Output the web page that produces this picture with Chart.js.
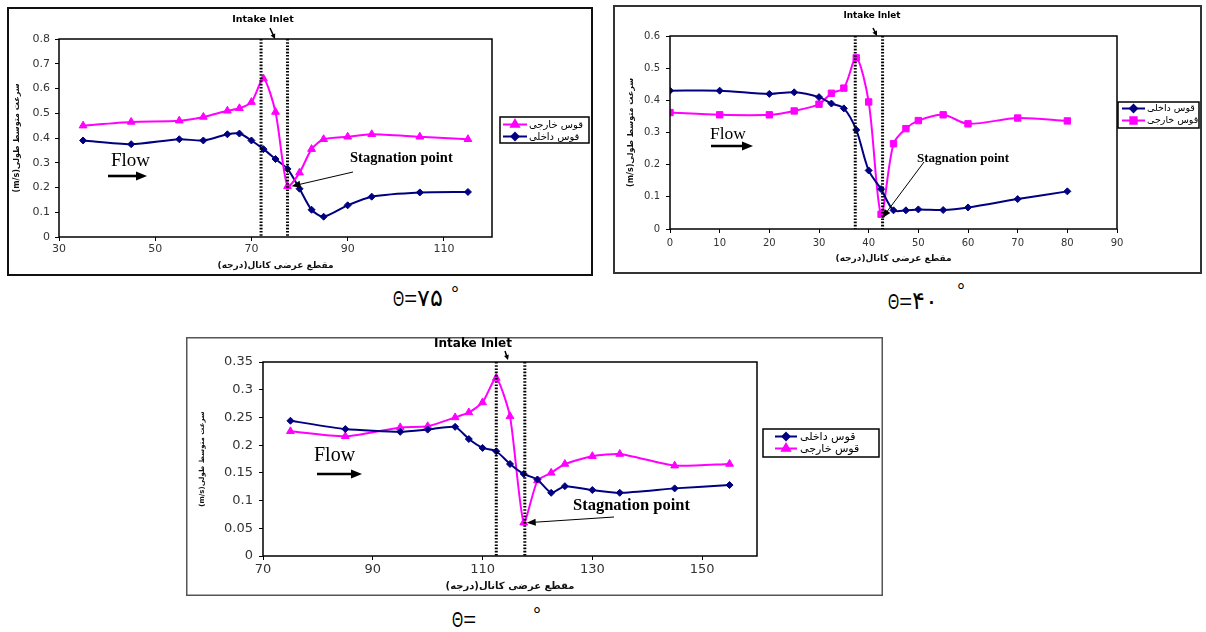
<!DOCTYPE html>
<html><head><meta charset="utf-8">
<script src="https://cdn.jsdelivr.net/npm/chart.js@4.4.1/dist/chart.umd.min.js"></script>
<style>
html,body{margin:0;padding:0;background:#fff;}
body{width:1206px;height:632px;position:relative;overflow:hidden;}
canvas{position:absolute;display:block;}
.lab{position:absolute;white-space:nowrap;font-family:"Liberation Sans","DejaVu Sans",sans-serif;font-size:22px;line-height:22px;color:#000;}
.th{display:inline-block;transform:scaleX(0.65);transform-origin:0 50%;margin-right:-6px;}
.dgt{font-family:'DejaVu Sans';font-size:24px;}
.dg{position:absolute;white-space:nowrap;font-family:"Liberation Sans",sans-serif;font-size:20px;line-height:20px;color:#000;}
</style></head><body>
<canvas id="c75" width="586" height="269" style="left:7px;top:7px"></canvas>
<canvas id="c40" width="589" height="269" style="left:613px;top:5px"></canvas>
<canvas id="cT" width="697" height="259" style="left:186px;top:337px"></canvas>
<div class="lab" style="left:393px;top:287px"><span class="th">Θ</span>=<span class="dgt">٧۵</span></div>
<div class="dg" style="left:451px;top:284px">°</div>
<div class="lab" style="left:888px;top:290px"><span class="th">Θ</span>=<span class="dgt">۴٠</span></div>
<div class="dg" style="left:957px;top:281px">°</div>
<div class="lab" style="left:452px;top:609px"><span class="th">Θ</span>=</div>
<div class="dg" style="left:533px;top:605px">°</div>
<script>
// ===== chart data =====
const innerName = 'قوس داخلی';
const outerName = 'قوس خارجی';
const yTitle = '(m/s)سرعت متوسط طولی';
const xTitle = 'مقطع عرضی کانال(درجه)\u200F';

// θ = 75°
const xTicks75 = [30, 50, 70, 90, 110];
const yTicks75 = [0, 0.1, 0.2, 0.3, 0.4, 0.5, 0.6, 0.7, 0.8];
const pos75 = [35, 45, 55, 60, 65, 67.5, 70, 72.5, 75, 77.5, 80, 82.5, 85, 90, 95, 105, 115];
const outer75 = [0.45, 0.465, 0.47, 0.485, 0.51, 0.52, 0.545, 0.64, 0.505, 0.205, 0.26, 0.355, 0.395, 0.405, 0.415, 0.405, 0.395];
const inner75 = [0.39, 0.375, 0.395, 0.39, 0.415, 0.418, 0.39, 0.355, 0.315, 0.275, 0.195, 0.11, 0.082, 0.128, 0.163, 0.18, 0.182];
const inlet75 = [72, 77.5];

// θ = 40°
const xTicks40 = [0, 10, 20, 30, 40, 50, 60, 70, 80, 90];
const yTicks40 = [0, 0.1, 0.2, 0.3, 0.4, 0.5, 0.6];
const pos40 = [0, 10, 20, 25, 30, 32.5, 35, 37.5, 40, 42.5, 45, 47.5, 50, 55, 60, 70, 80];
const inner40 = [0.43, 0.43, 0.42, 0.425, 0.41, 0.39, 0.375, 0.308, 0.182, 0.124, 0.058, 0.058, 0.061, 0.059, 0.067, 0.093, 0.117];
const outer40 = [0.362, 0.355, 0.355, 0.367, 0.388, 0.422, 0.438, 0.532, 0.395, 0.046, 0.265, 0.312, 0.337, 0.355, 0.327, 0.345, 0.336];
const inlet40 = [37.3, 42.8];

// third chart
const xTicksT = [70, 90, 110, 130, 150];
const yTicksT = [0, 0.05, 0.1, 0.15, 0.2, 0.25, 0.3, 0.35];
const posT = [75, 85, 95, 100, 105, 107.5, 110, 112.5, 115, 117.5, 120, 122.5, 125, 130, 135, 145, 155];
const innerT = [0.244, 0.229, 0.224, 0.228, 0.233, 0.211, 0.195, 0.189, 0.166, 0.148, 0.138, 0.114, 0.126, 0.119, 0.114, 0.122, 0.128];
const outerT = [0.225, 0.216, 0.232, 0.234, 0.25, 0.259, 0.277, 0.321, 0.252, 0.06, 0.136, 0.15, 0.166, 0.18, 0.184, 0.163, 0.166];
const inletT = [112.5, 117.7];

// ===== styling / layout =====
const PINK = '#FF00FF', NAVY = '#000080';
function ds(label, xs, ys, color, style, radius, tension) {
  return {label, data: xs.map((x, i) => ({x, y: ys[i]})), borderColor: color, backgroundColor: color,
    pointBackgroundColor: color, pointBorderColor: color, borderWidth: 2, pointStyle: style,
    pointRadius: radius, pointHoverRadius: radius, pointBorderWidth: 1, tension, fill: false};
}
function arrow(ctx, x1, y1, x2, y2, hl, hw, lw) {
  const a = Math.atan2(y2 - y1, x2 - x1), c = Math.cos(a), s = Math.sin(a);
  ctx.lineWidth = lw;
  ctx.beginPath(); ctx.moveTo(x1, y1); ctx.lineTo(x2 - c * hl * 0.8, y2 - s * hl * 0.8); ctx.stroke();
  ctx.beginPath(); ctx.moveTo(x2, y2);
  ctx.lineTo(x2 - hl * c + hw * s, y2 - hl * s - hw * c);
  ctx.lineTo(x2 - hl * c - hw * s, y2 - hl * s + hw * c);
  ctx.closePath(); ctx.fill();
}
function annPlugin(L) {
  return {id: 'ann', afterDraw(chart) {
    const ctx = chart.ctx, ca = chart.chartArea, xs = chart.scales.x, ys = chart.scales.y;
    ctx.save();
    ctx.setLineDash([]);
    ctx.strokeStyle = '#000'; ctx.lineWidth = 1.5;
    ctx.strokeRect(ca.left, ca.top, ca.right - ca.left, ca.bottom - ca.top);
    ctx.strokeStyle = L.frameColor; ctx.lineWidth = L.frameLW;
    ctx.strokeRect(L.frameLW / 2, L.frameLW / 2, chart.width - L.frameLW, chart.height - L.frameLW);
    // intake inlet dotted lines
    ctx.strokeStyle = '#000'; ctx.lineWidth = 3; ctx.setLineDash([1.6, 1.6]);
    L.inlet.forEach(v => {
      const px = xs.getPixelForValue(v);
      ctx.beginPath(); ctx.moveTo(px, ca.top); ctx.lineTo(px, ca.bottom); ctx.stroke();
    });
    ctx.setLineDash([]);
    ctx.fillStyle = '#000'; ctx.strokeStyle = '#000';
    // Intake Inlet label
    ctx.font = 'bold ' + L.intake.size + 'px "DejaVu Sans"';
    ctx.textAlign = 'center'; ctx.textBaseline = 'middle';
    ctx.fillText('Intake Inlet', L.intake.x, L.intake.y);
    arrow(ctx, L.intake.a[0], L.intake.a[1], L.intake.a[2], L.intake.a[3], 5, 2.5, 1.5);
    // Flow
    ctx.font = L.flow.size + 'px "Liberation Serif"';
    ctx.textAlign = 'left'; ctx.textBaseline = 'alphabetic';
    ctx.fillText('Flow', L.flow.x, L.flow.y);
    arrow(ctx, L.flow.a[0], L.flow.a[1], L.flow.a[2], L.flow.a[1], 11, 4.5, 2.6);
    // Stagnation point
    ctx.font = 'bold ' + L.stag.size + 'px "Liberation Serif"';
    ctx.textBaseline = 'middle';
    ctx.fillText('Stagnation point', L.stag.x, L.stag.y);
    const tx = xs.getPixelForValue(L.stag.px) + L.stag.off[0];
    const ty = ys.getPixelForValue(L.stag.py) + L.stag.off[1];
    arrow(ctx, L.stag.s[0], L.stag.s[1], tx, ty, 9, 3.5, 1);
    // legend
    const g = L.legend;
    ctx.lineWidth = 1.5; ctx.strokeStyle = '#000';
    ctx.strokeRect(g.x0, g.y0, g.x1 - g.x0, g.y1 - g.y0);
    ctx.font = g.size + 'px "DejaVu Sans"';
    ctx.textBaseline = 'middle'; ctx.textAlign = 'left';
    chart.data.datasets.forEach((d, i) => {
      const y = g.rows[i];
      ctx.strokeStyle = d.borderColor; ctx.fillStyle = d.borderColor; ctx.lineWidth = 2;
      ctx.beginPath(); ctx.moveTo(g.l0, y); ctx.lineTo(g.l1, y); ctx.stroke();
      Chart.helpers.drawPoint(ctx, {pointStyle: d.pointStyle, radius: d.pointRadius, rotation: 0, borderWidth: 1}, (g.l0 + g.l1) / 2, y);
      ctx.fillStyle = '#000';
      ctx.fillText(d.label, g.tx, y + 0.5);
    });
    ctx.restore();
  }};
}
function make(id, L) {
  const cv = document.getElementById(id);
  const H = cv.height, W = cv.width;
  const tickFont = {family: 'DejaVu Sans', size: L.tickSize};
  new Chart(cv, {
    type: 'line',
    data: {datasets: L.datasets},
    options: {
      responsive: false, animation: false, events: [],
      layout: {padding: {left: 0, top: L.area.top, right: W - L.area.right, bottom: 0}},
      plugins: {legend: {display: false}, tooltip: {enabled: false}},
      scales: {
        x: {type: 'linear', position: 'bottom', min: L.xmin, max: L.xmax,
          afterBuildTicks: s => { s.ticks = L.xticks.map(v => ({value: v})); },
          afterFit: s => { s.height = H - L.area.bottom; },
          grid: {drawOnChartArea: false, drawTicks: true, tickLength: 4, color: '#000', lineWidth: 1},
          border: {display: false},
          ticks: {autoSkip: false, maxRotation: 0, padding: L.xpad, color: '#333', font: tickFont, callback: v => String(v)},
          title: {display: true, text: xTitle, color: '#111', font: {family: 'DejaVu Sans', size: L.xTitleSize, weight: 'bold'}, padding: {top: 0, bottom: L.xTitlePad}}},
        y: {type: 'linear', position: 'left', min: L.ymin, max: L.ymax,
          afterBuildTicks: s => { s.ticks = L.yticks.map(v => ({value: v})); },
          afterFit: s => { s.width = L.area.left; },
          grid: {drawOnChartArea: false, drawTicks: true, tickLength: 4, color: '#000', lineWidth: 1},
          border: {display: false},
          ticks: {autoSkip: false, padding: L.ypad, color: '#333', font: tickFont, callback: v => String(+Number(v).toFixed(2))},
          title: {display: true, text: yTitle, color: '#111', font: {family: 'DejaVu Sans', size: L.yTitleSize, weight: 'bold'}, padding: {top: L.yTitlePad, bottom: 0}}}
      }
    },
    plugins: [annPlugin(L)]
  });
}

make('c75', {
  datasets: [ds(outerName, pos75, outer75, PINK, 'triangle', 4.5, 0.25), ds(innerName, pos75, inner75, NAVY, 'rectRot', 3.5, 0.25)],
  area: {left: 52, top: 32, right: 485, bottom: 230},
  xmin: 30, xmax: 120, ymin: 0, ymax: 0.8, xticks: xTicks75, yticks: yTicks75,
  tickSize: 11, xTitleSize: 9, yTitleSize: 8, xpad: 2, ypad: 5, xTitlePad: 5, yTitlePad: 5,
  frameColor: '#111', frameLW: 2, inlet: inlet75,
  intake: {size: 9.5, x: 256, y: 13, a: [263, 21, 268, 32]},
  flow: {size: 19, x: 104, y: 159, a: [101, 169, 140]},
  stag: {size: 14.5, x: 343, y: 151, s: [346, 165], px: 77.5, py: 0.205, off: [4, 0]},
  legend: {x0: 493, y0: 110, x1: 582, y1: 136, rows: [117.5, 129.5], l0: 496, l1: 520, tx: 522, size: 10}
});
make('c40', {
  datasets: [ds(innerName, pos40, inner40, NAVY, 'rectRot', 3.5, 0.3), ds(outerName, pos40, outer40, PINK, 'rect', 4.5, 0.3)],
  area: {left: 57, top: 31, right: 504, bottom: 224},
  xmin: 0, xmax: 90, ymin: 0, ymax: 0.6, xticks: xTicks40, yticks: yTicks40,
  tickSize: 10, xTitleSize: 9, yTitleSize: 8, xpad: 4, ypad: 6, xTitlePad: 10, yTitlePad: 13,
  frameColor: '#333', frameLW: 2, inlet: inlet40,
  intake: {size: 8.8, x: 259, y: 11, a: [260, 23, 264, 31]},
  flow: {size: 17.5, x: 97, y: 134, a: [98, 141, 140]},
  stag: {size: 13, x: 304, y: 154, s: [311, 157], px: 42.5, py: 0.046, off: [1, 4]},
  legend: {x0: 505, y0: 97, x1: 586, y1: 123, rows: [103.5, 115.5], l0: 509, l1: 532, tx: 534, size: 9.5}
});
make('cT', {
  datasets: [ds(innerName, posT, innerT, NAVY, 'rectRot', 3.5, 0.2), ds(outerName, posT, outerT, PINK, 'triangle', 4.5, 0.2)],
  area: {left: 77, top: 25, right: 571, bottom: 219},
  xmin: 70, xmax: 160, ymin: 0, ymax: 0.35, xticks: xTicksT, yticks: yTicksT,
  tickSize: 13, xTitleSize: 10, yTitleSize: 7, xpad: 2, ypad: 6, xTitlePad: 4, yTitlePad: 12,
  frameColor: '#555', frameLW: 1.5, inlet: inletT,
  intake: {size: 12, x: 287, y: 7, a: [319, 14, 322, 23]},
  flow: {size: 20, x: 128, y: 124, a: [131, 137, 176]},
  stag: {size: 16.5, x: 387, y: 169, s: [428, 180], px: 117.5, py: 0.06, off: [3, 0]},
  legend: {x0: 577, y0: 92, x1: 693, y1: 120, rows: [99.5, 111.5], l0: 589, l1: 611, tx: 614, size: 11}
});
</script>
</body></html>
